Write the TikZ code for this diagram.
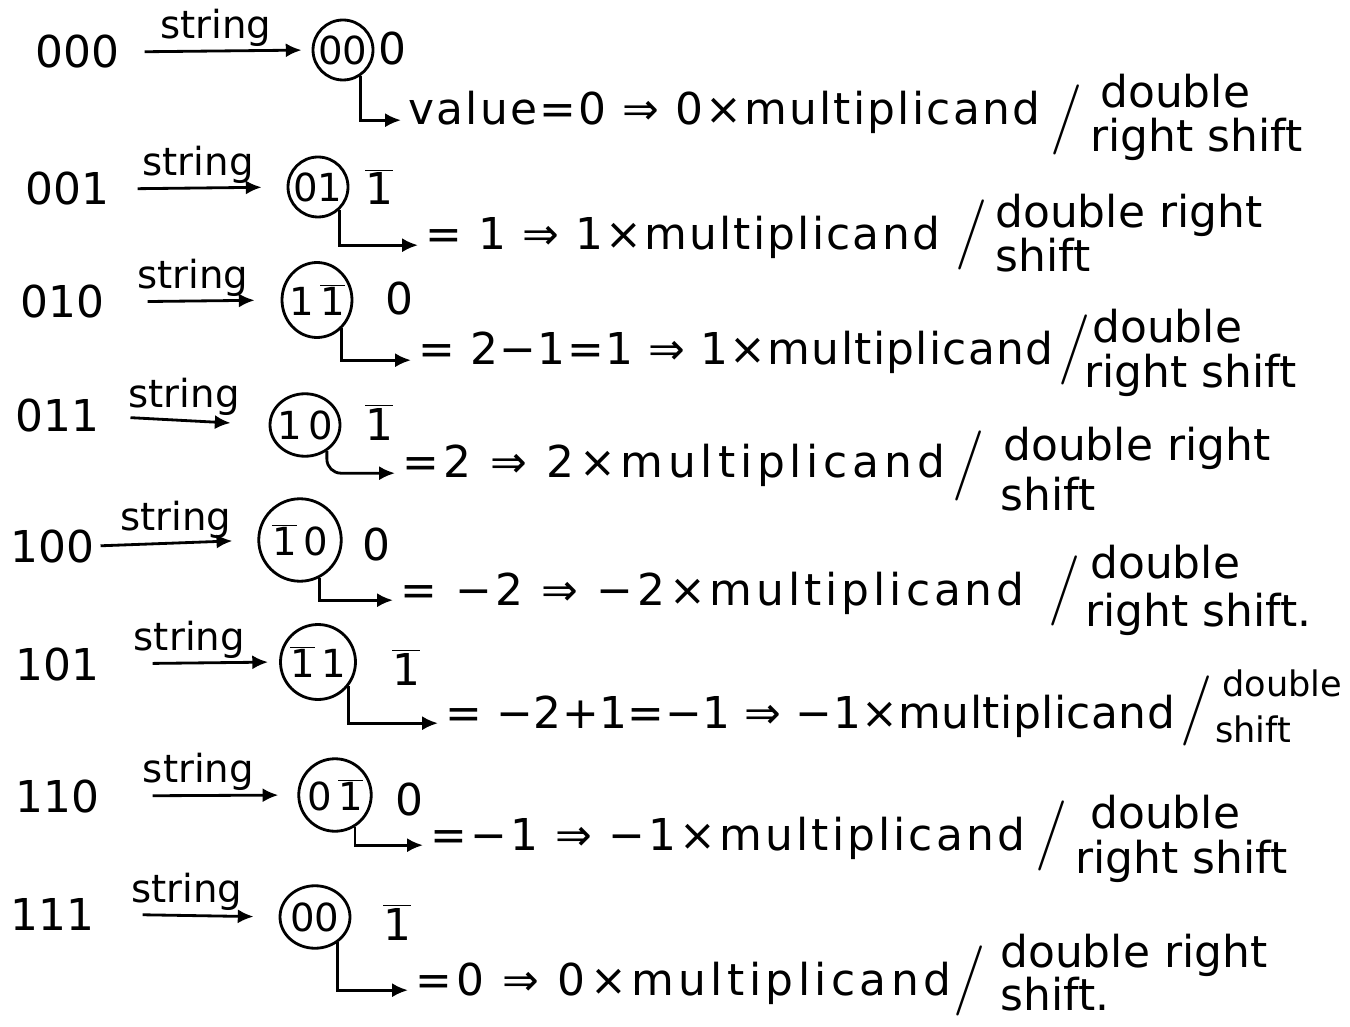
\documentclass[tikz,border=0pt]{standalone}
\usepackage{fontspec}
\setmainfont{DejaVu Sans}
\newfontfamily\slfont{Latin Modern Roman}
\usetikzlibrary{shapes.geometric,arrows.meta}
\newcommand\bone{$\overline{\hbox{1}}$}
\tikzset{
  txt/.style={font=\fontsize{25}{30}\selectfont, inner sep=0pt, anchor=base west},
  res/.style={font=\fontsize{25}{30}\selectfont\addfontfeature{LetterSpace=#1}, inner sep=0pt, anchor=base west},
  sm/.style={font=\fontsize{20}{24}\selectfont, inner sep=0pt, anchor=base west},
  dig/.style={font=\fontsize{22}{26}\selectfont, inner sep=0pt},
  lbl/.style={font=\fontsize{22}{26}\selectfont, inner sep=2pt, above},
  sl/.style={font=\fontsize{40}{44}\selectfont\slfont, inner sep=0pt, anchor=base west},
  grp/.style={ellipse, draw, line width=1.6pt, inner sep=0pt},
  lnk/.style={line width=1.6pt, -{Latex[length=9pt,width=8pt]}},
}
\begin{document}
\begin{tikzpicture}[x=0.02cm,y=-0.02cm]
\fill[white] (0,0) rectangle (1350,1027);
\path[use as bounding box] (0,0) rectangle (1350,1027);
% row 1
\node[txt] (n1) at (35,68) {000};
\node[grp, minimum width=1.2cm, minimum height=1.2cm] (c1) at (343,50) {};
\node[dig] (d1) at (c1) {00};
\node[txt] (t1) at (378,65) {0};
\draw[lnk, shorten <=0.5cm, shorten >=0.2cm] (n1.east) -- node[lbl]{string} (c1.west);
\node[res=5] (r1) at (408,125) {value=0 ⇒ 0×multiplicand};
\draw[lnk, shorten >=4pt] (c1.-56) |- (r1.mid west);
\node[sl] (s1) at (1050,138) {/};
\node[txt] (a1) at (1100,108) {double};
\node[txt] (b1) at (1090,152) {right shift};
% row 2
\node[txt] (n2) at (25,205) {001};
\node[grp, minimum width=1.2cm, minimum height=1.2cm] (c2) at (318,187) {};
\node[dig] (d2) at (c2) {01};
\node[txt] (t2) at (365,205) {\bone};
\draw[lnk, shorten <=0.56cm, shorten >=0.5cm] (n2.east) -- node[lbl]{string} (c2.west);
\node[res=5] (r2) at (425,250) {= 1 ⇒ 1×multiplicand};
\draw[lnk, shorten >=4pt] (c2.-46) |- (r2.mid west);
\node[sl] (s2) at (955,253) {/};
\node[txt] (a2) at (995,228) {double right};
\node[txt] (b2) at (995,272) {shift};
% row 3
\node[txt] (n3) at (20,318) {010};
\node[grp, minimum width=1.4cm, minimum height=1.5cm] (c3) at (317,300) {};
\node[dig] (d3) at (c3) {1\,\bone};
\node[txt] (t3) at (385,315) {0};
\draw[lnk, shorten <=0.86cm, shorten >=0.52cm] (n3.east) -- node[lbl]{string} (c3.west);
\node[res=3] (r3) at (418,365) {= 2−1=1 ⇒ 1×multiplicand};
\draw[lnk, shorten >=4pt] (c3.-49) |- (r3.mid west);
\node[sl] (s3) at (1058,368) {/};
\node[txt] (a3) at (1092,343) {double};
\node[txt] (b3) at (1084,388) {right shift};
% row 4
\node[txt] (n4) at (15,432) {011};
\node[grp, minimum width=1.4cm, minimum height=1.25cm] (c4) at (305,425) {};
\node[dig] (d4) at (c4) {1\,0};
\node[txt] (t4) at (365,440) {\bone};
\draw[lnk, shorten <=0.62cm, shorten >=0.76cm] (n4.east) -- node[lbl]{string} (c4.west);
\node[res=11] (r4) at (402,478) {=2 ⇒ 2×multiplicand};
\draw[lnk, shorten >=4pt, rounded corners=8pt] (c4.-50) |- (r4.mid west);
\node[sl] (s4) at (952,483) {/};
\node[txt] (a4) at (1003,460) {double right};
\node[txt] (b4) at (1000,510) {shift};
% row 5
\node[txt] (n5) at (10,562) {100};
\node[grp, minimum width=1.65cm, minimum height=1.65cm] (c5) at (300,540) {};
\node[dig] (d5) at (c5) {\bone\,0};
\node[txt] (t5) at (362,560) {0};
\draw[lnk, shorten <=0.12cm, shorten >=0.5cm] (n5.east) -- node[lbl]{string} (c5.west);
\node[res=9] (r5) at (400,605) {= −2 ⇒ −2×multiplicand};
\draw[lnk, shorten >=4pt] (c5.-63) |- (r5.mid west);
\node[sl] (s5) at (1048,608) {/};
\node[txt] (a5) at (1090,578) {double};
\node[txt] (b5) at (1085,626) {right shift.};
% row 6
\node[txt] (n6) at (15,680) {101};
\node[grp, minimum width=1.5cm, minimum height=1.5cm] (c6) at (318,662) {};
\node[dig] (d6) at (c6) {\bone\,1};
\node[txt] (t6) at (392,685) {\bone};
\draw[lnk, shorten <=1.06cm, shorten >=0.22cm] (n6.east) -- node[lbl]{string} (c6.west);
\node[res=1] (r6) at (445,728) {= −2+1=−1 ⇒ −1×multiplicand};
\draw[lnk, shorten >=4pt] (c6.-39) |- (r6.mid west);
\node[sl] (s6) at (1180,728) {/};
\node[sm] (a6) at (1222,696) {double};
\node[sm] (b6) at (1215,742) {shift};
% row 7
\node[txt] (n7) at (15,812) {110};
\node[grp, minimum width=1.45cm, minimum height=1.45cm] (c7) at (335,795) {};
\node[dig] (d7) at (c7) {0\,\bone};
\node[txt] (t7) at (395,815) {0};
\draw[lnk, shorten <=1.06cm, shorten >=0.38cm] (n7.east) -- node[lbl]{string} (c7.west);
\node[res=7] (r7) at (430,850) {=−1 ⇒ −1×multiplicand};
\draw[lnk, shorten >=4pt] (c7.-58) |- (r7.mid west);
\node[sl] (s7) at (1035,853) {/};
\node[txt] (a7) at (1090,828) {double};
\node[txt] (b7) at (1075,873) {right shift};
% row 8
\node[txt] (n8) at (10,930) {111};
\node[grp, minimum width=1.4cm, minimum height=1.25cm] (c8) at (315,917) {};
\node[dig] (d8) at (c8) {00};
\node[txt] (t8) at (383,940) {\bone};
\draw[lnk, shorten <=0.96cm, shorten >=0.5cm] (n8.east) -- node[lbl]{string} (c8.west);
\node[res=10] (r8) at (415,995) {=0 ⇒ 0×multiplicand};
\draw[lnk, shorten >=4pt] (c8.-48) |- (r8.mid west);
\node[sl] (s8) at (953,998) {/};
\node[txt] (a8) at (1000,967) {double right};
\node[txt] (b8) at (1000,1010) {shift.};
\end{tikzpicture}
\end{document}
